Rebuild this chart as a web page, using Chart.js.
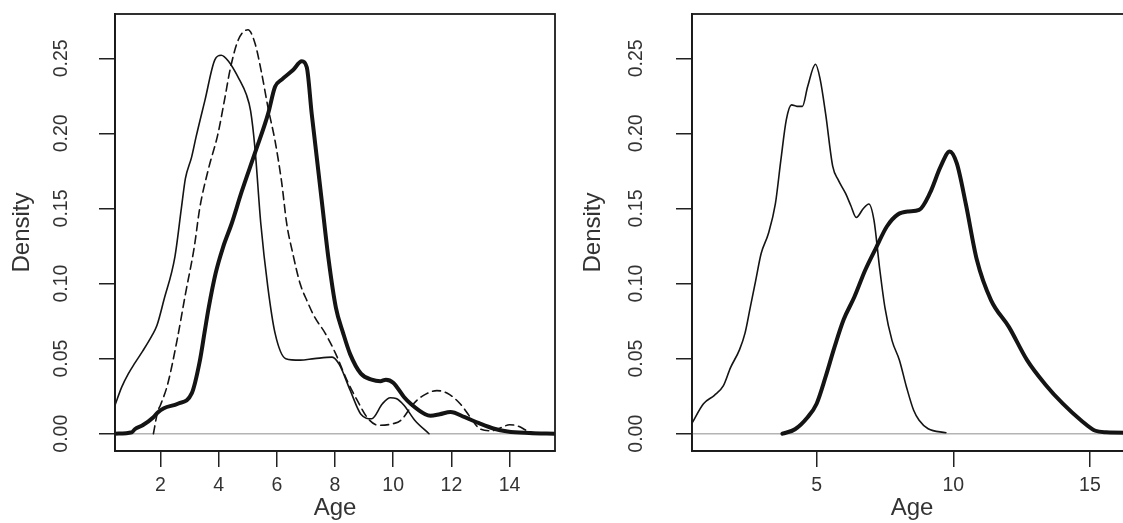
<!DOCTYPE html>
<html>
<head>
<meta charset="utf-8">
<script src="https://cdn.jsdelivr.net/npm/chart.js@4.4.1/dist/chart.umd.min.js"></script>
<style>
  html, body { margin: 0; padding: 0; background: #fff; overflow: hidden; width: 1123px; height: 523px; }
  canvas { position: absolute; top: 0; }
</style>
</head>
<body>
<canvas id="left" width="560" height="523" style="left:0px"></canvas>
<canvas id="right" width="600" height="523" style="left:560px"></canvas>
<script>
// ---------- Data ----------
const leftXTicks = [2, 4, 6, 8, 10, 12, 14];
const leftXTickLabels = ['2', '4', '6', '8', '10', '12', '14'];
const rightXTicks = [5, 10, 15];
const rightXTickLabels = ['5', '10', '15'];
const yTicks = [0, 0.05, 0.10, 0.15, 0.20, 0.25];
const yTickLabels = ['0.00', '0.05', '0.10', '0.15', '0.20', '0.25'];
const xTitle = 'Age';
const yTitle = 'Density';

// Left panel – thin solid curve
const leftThinX = [0.44, 0.67, 0.9, 1.12, 1.39, 1.7, 1.88, 2.12, 2.5, 2.72, 2.86, 3.07, 3.23, 3.53, 3.87, 4.09, 4.34, 4.71, 4.95, 5.1, 5.25, 5.45, 5.69, 5.94, 6.31, 6.8, 7.29, 7.9, 8.15, 8.52, 8.89, 9.26, 9.63, 9.9, 10.1, 10.37, 10.74, 11.23];
const leftThinY = [0.019, 0.031, 0.040, 0.047, 0.055, 0.065, 0.072, 0.089, 0.118, 0.150, 0.170, 0.184, 0.198, 0.222, 0.249, 0.252, 0.248, 0.236, 0.226, 0.215, 0.190, 0.140, 0.098, 0.067, 0.050, 0.049, 0.050, 0.051, 0.046, 0.029, 0.013, 0.010, 0.020, 0.024, 0.0235, 0.019, 0.009, 0.0];
// Left panel – dashed curve
const leftDashX = [1.76, 1.91, 2.0, 2.25, 2.57, 2.86, 3.17, 3.35, 3.66, 3.97, 4.22, 4.39, 4.67, 5.01, 5.25, 5.48, 5.7, 5.94, 6.17, 6.34, 6.55, 6.8, 7.05, 7.29, 7.66, 8.03, 8.4, 8.77, 9.14, 9.51, 10.0, 10.25, 10.7, 11.0, 11.5, 11.86, 12.3, 12.65, 13.0, 13.4, 13.7, 14.0, 14.3, 14.6, 15.0];
const leftDashY = [0.0, 0.015, 0.019, 0.033, 0.062, 0.093, 0.125, 0.150, 0.177, 0.199, 0.224, 0.242, 0.262, 0.269, 0.260, 0.240, 0.217, 0.195, 0.167, 0.140, 0.120, 0.100, 0.088, 0.078, 0.067, 0.053, 0.036, 0.022, 0.010, 0.0056, 0.0067, 0.0087, 0.020, 0.025, 0.0287, 0.027, 0.020, 0.011, 0.003, 0.002, 0.004, 0.006, 0.005, 0.002, 0.0];
// Left panel – thick solid curve
const leftThickX = [0.44, 1.02, 1.12, 1.39, 1.76, 1.9, 2.12, 2.6, 3.08, 3.35, 3.53, 3.66, 3.9, 4.15, 4.45, 4.79, 5.25, 5.7, 5.94, 6.18, 6.55, 6.86, 7.03, 7.2, 7.32, 7.54, 7.78, 8.03, 8.28, 8.52, 8.89, 9.26, 9.56, 9.75, 10.0, 10.37, 10.6, 11.1, 11.28, 11.6, 11.97, 12.46, 12.95, 13.44, 13.93, 14.67, 15.56];
const leftThickY = [0.0, 0.001, 0.003, 0.0056, 0.011, 0.014, 0.017, 0.020, 0.027, 0.048, 0.069, 0.084, 0.107, 0.124, 0.140, 0.161, 0.187, 0.213, 0.231, 0.236, 0.242, 0.248, 0.244, 0.213, 0.193, 0.156, 0.116, 0.084, 0.067, 0.053, 0.040, 0.036, 0.035, 0.036, 0.034, 0.0245, 0.020, 0.013, 0.012, 0.013, 0.0145, 0.011, 0.007, 0.0035, 0.0015, 0.0005, 0.0];

// Right panel – thin solid curve
const rightThinX = [0.44, 0.86, 1.26, 1.59, 1.85, 2.18, 2.38, 2.57, 2.77, 2.97, 3.23, 3.49, 3.69, 3.89, 4.08, 4.28, 4.48, 4.67, 4.96, 5.13, 5.33, 5.59, 5.79, 6.06, 6.25, 6.45, 6.71, 6.91, 7.1, 7.3, 7.5, 7.76, 8.03, 8.29, 8.55, 8.75, 9.08, 9.73];
const rightThinY = [0.007, 0.020, 0.0256, 0.032, 0.044, 0.056, 0.067, 0.084, 0.102, 0.120, 0.133, 0.153, 0.182, 0.209, 0.219, 0.218, 0.218, 0.231, 0.246, 0.236, 0.213, 0.178, 0.169, 0.160, 0.152, 0.144, 0.150, 0.153, 0.142, 0.111, 0.084, 0.062, 0.049, 0.031, 0.0156, 0.009, 0.0033, 0.0007];
// Right panel – thick solid curve
const rightThickX = [3.75, 4.21, 4.67, 5.0, 5.33, 5.66, 5.99, 6.38, 6.78, 7.18, 7.57, 7.97, 8.36, 8.75, 9.14, 9.54, 9.87, 10.13, 10.46, 10.86, 11.38, 12.04, 12.7, 13.36, 14.01, 14.67, 15.2, 15.59, 16.6];
const rightThickY = [0.0, 0.003, 0.011, 0.020, 0.038, 0.058, 0.076, 0.091, 0.109, 0.124, 0.138, 0.146, 0.148, 0.149, 0.160, 0.178, 0.188, 0.180, 0.153, 0.116, 0.089, 0.071, 0.049, 0.033, 0.020, 0.009, 0.002, 0.001, 0.0007];

// ---------- Chart building ----------
const FONT = '"Liberation Sans", Arial, sans-serif';
const INK = '#141414';

function pts(xs, ys) { return xs.map((x, i) => ({ x: x, y: ys[i] })); }

function line(xs, ys, width, dash) {
  return {
    data: pts(xs, ys),
    borderColor: INK,
    borderWidth: width,
    borderDash: dash || [],
    pointRadius: 0,
    fill: false,
    cubicInterpolationMode: 'monotone',
    borderJoinStyle: 'round',
    borderCapStyle: 'round'
  };
}

const framePlugin = {
  id: 'frame',
  beforeDatasetsDraw(chart) {
    const { ctx, chartArea: a, scales } = chart;
    const y0 = scales.y.getPixelForValue(0);
    ctx.save();
    ctx.strokeStyle = '#b4b4b4';
    ctx.lineWidth = 1.5;
    ctx.beginPath();
    ctx.moveTo(a.left, y0);
    ctx.lineTo(a.right, y0);
    ctx.stroke();
    ctx.restore();
  },
  afterDraw(chart, args, opts) {
    const { ctx, chartArea: a, scales } = chart;
    ctx.save();
    ctx.strokeStyle = '#1a1a1a';
    ctx.lineWidth = 1.8;
    ctx.strokeRect(a.left, a.top, a.right - a.left, a.bottom - a.top);
    // rotated y tick labels (R style, parallel to axis)
    ctx.fillStyle = '#333';
    ctx.font = '19.5px ' + FONT;
    ctx.textAlign = 'center';
    ctx.textBaseline = 'middle';
    scales.y.ticks.forEach((t) => {
      const idx = yTicks.indexOf(t.value);
      const yp = scales.y.getPixelForValue(t.value);
      ctx.save();
      ctx.translate(a.left - opts.labelOffset, yp);
      ctx.rotate(-Math.PI / 2);
      ctx.fillText(yTickLabels[idx], 0, 0);
      ctx.restore();
    });
    ctx.restore();
  }
};

function makeChart(id, datasets, cfg) {
  return new Chart(document.getElementById(id), {
    type: 'line',
    data: { datasets: datasets },
    plugins: [framePlugin],
    options: {
      responsive: false,
      animation: false,
      events: [],
      layout: { padding: { left: 0, top: 14, right: cfg.padRight, bottom: 0 } },
      plugins: {
        legend: { display: false },
        tooltip: { enabled: false },
        frame: { labelOffset: cfg.labelOffset }
      },
      scales: {
        x: {
          type: 'linear',
          min: cfg.xMin,
          max: cfg.xMax,
          afterBuildTicks: (s) => { s.ticks = cfg.xTicks.map((v) => ({ value: v })); },
          afterFit: (s) => { s.height = 523 - 451; },
          grid: { display: true, drawOnChartArea: false, drawTicks: true, tickLength: 16, color: '#222', lineWidth: 1.5 },
          border: { display: true, color: '#1a1a1a', width: 1.8 },
          ticks: {
            color: '#333',
            font: { family: FONT, size: 19.5 },
            padding: 7,
            maxRotation: 0,
            autoSkip: false,
            callback: (v) => cfg.xTickLabels[cfg.xTicks.indexOf(v)]
          },
          title: { display: true, text: xTitle, color: '#333', font: { family: FONT, size: 24 }, padding: { top: 0, bottom: 0 } }
        },
        y: {
          type: 'linear',
          min: -0.0115,
          max: 0.2795,
          afterBuildTicks: (s) => { s.ticks = yTicks.map((v) => ({ value: v })); },
          afterFit: (s) => { s.width = cfg.yWidth; },
          grid: { display: true, drawOnChartArea: false, drawTicks: true, tickLength: 16, color: '#222', lineWidth: 1.5 },
          border: { display: true, color: '#1a1a1a', width: 1.8 },
          ticks: { display: false },
          title: { display: true, text: yTitle, color: '#333', font: { family: FONT, size: 24 }, padding: { top: cfg.yTitlePad, bottom: 0 } }
        }
      }
    }
  });
}

makeChart('left', [
  line(leftThinX, leftThinY, 1.6),
  line(leftDashX, leftDashY, 1.6, [8, 5]),
  line(leftThickX, leftThickY, 4)
], {
  xMin: 0.44, xMax: 15.56, xTicks: leftXTicks, xTickLabels: leftXTickLabels,
  padRight: 5, yWidth: 115, labelOffset: 53, yTitlePad: 7.5
});

makeChart('right', [
  line(rightThinX, rightThinY, 1.6),
  line(rightThickX, rightThickY, 4)
], {
  xMin: 0.44, xMax: 16.54, xTicks: rightXTicks, xTickLabels: rightXTickLabels,
  padRight: 28, yWidth: 132, labelOffset: 55, yTitlePad: 18.5
});
</script>
</body>
</html>
